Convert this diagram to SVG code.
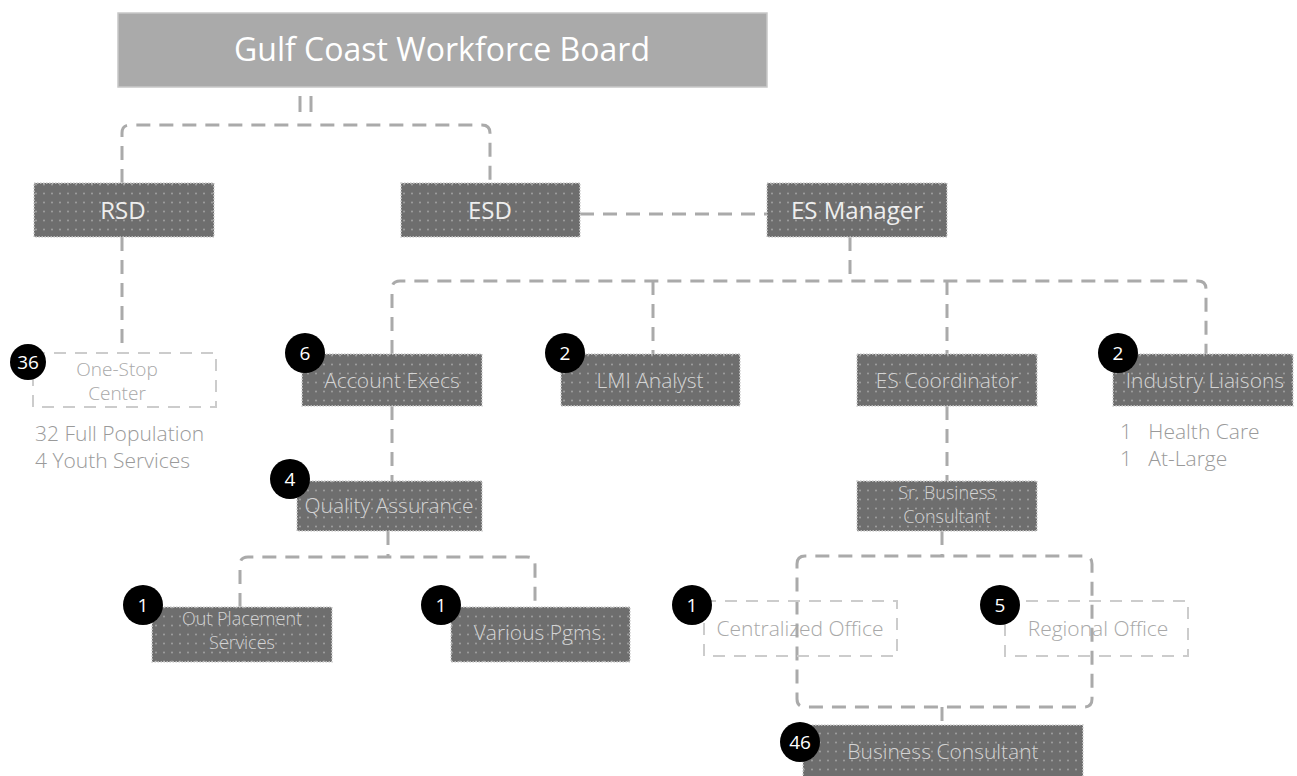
<svg xmlns="http://www.w3.org/2000/svg" width="1297" height="776" viewBox="0 0 1297 776">
<defs>
<pattern id="dots" width="8" height="9" patternUnits="userSpaceOnUse">
<rect width="8" height="9" fill="#6e6e6e"/>
<circle cx="4" cy="4.5" r="1" fill="#a0a0a0"/>
</pattern>
<style>
.box{fill:url(#dots);stroke:#cfcfcf;stroke-width:1.5;stroke-dasharray:1.5 1.5}
.btxt{font-family:"Open Sans","Liberation Sans",sans-serif;font-weight:300;font-size:21px;fill:#d4d4d4;text-anchor:middle}
.btxt2{font-family:"Open Sans","Liberation Sans",sans-serif;font-weight:300;font-size:18px;fill:#d4d4d4;text-anchor:middle}
.big{font-family:"Open Sans","Liberation Sans",sans-serif;font-size:24px;fill:#eeeeee;text-anchor:middle}
.dbox{fill:none;stroke:#cccccc;stroke-width:2;stroke-dasharray:12 9}
.gtxt{font-family:"Open Sans","Liberation Sans",sans-serif;font-weight:300;font-size:21px;fill:#9a9a9a}
.gtxtc{font-family:"Open Sans","Liberation Sans",sans-serif;font-weight:300;font-size:21px;fill:#a8a8a8;text-anchor:middle}
.gtxts{font-family:"Open Sans","Liberation Sans",sans-serif;font-weight:300;font-size:19px;fill:#a8a8a8;text-anchor:middle}
.conn{fill:none;stroke:#aaaaaa;stroke-width:3;stroke-dasharray:14 9}
.badge{fill:#000000}
.btext{font-family:"Open Sans","Liberation Sans",sans-serif;font-size:19px;fill:#ffffff;text-anchor:middle}
</style>
</defs>
<rect width="1297" height="776" fill="#ffffff"/>

<g id="connectors">
<line x1="300" y1="96" x2="300" y2="112" stroke="#aaaaaa" stroke-width="3"/>
<line x1="311" y1="96" x2="311" y2="112" stroke="#aaaaaa" stroke-width="3"/>
<path class="conn" d="M122 183 V133 Q122 125 130 125 H482 Q490 125 490 133 V183"/>
<path class="conn" d="M580 214 H767"/>
<path class="conn" d="M122 237 V353"/>
<path class="conn" d="M850 237 V281"/>
<path class="conn" d="M392 354 V289 Q392 281 400 281 H1198 Q1206 281 1206 289 V354"/>
<path class="conn" d="M653 281 V354"/>
<path class="conn" d="M947 281 V354"/>
<path class="conn" d="M392 406 V481"/>
<path class="conn" d="M947 406 V481"/>
<path class="conn" d="M388 531 V557"/>
<path class="conn" d="M240 607 V565 Q240 557 248 557 H527 Q535 557 535 565 V607"/>
<path class="conn" d="M942 531 V556"/>
<path class="conn" d="M797 564 Q797 556 805 556 H1084 Q1092 556 1092 564 V699 Q1092 707 1084 707 H805 Q797 707 797 699 Z"/>
<path class="conn" d="M942 707 V725"/>
</g>

<g id="board">
<rect x="118" y="13" width="649" height="74" fill="#aaaaaa" stroke="#c8c8c8" stroke-width="1.5"/>
<text x="442" y="61" font-family="'Open Sans','Liberation Sans',sans-serif" font-size="32" fill="#ffffff" text-anchor="middle">Gulf Coast Workforce Board</text>
</g>

<g id="rsd">
<rect class="box" x="34" y="183" width="180" height="54"/>
<text class="big" x="123" y="219">RSD</text>
</g>
<g id="esd">
<rect class="box" x="401" y="183" width="179" height="54"/>
<text class="big" x="490" y="219">ESD</text>
</g>
<g id="es-manager">
<rect class="box" x="767" y="183" width="180" height="54"/>
<text class="big" x="857" y="219">ES Manager</text>
</g>

<g id="one-stop">
<rect class="dbox" x="33" y="353" width="183" height="54"/>
<text class="gtxts" x="117" y="376">One-Stop</text>
<text class="gtxts" x="117" y="400">Center</text>
<circle class="badge" cx="28" cy="362" r="18"/>
<text class="btext" x="28" y="369">36</text>
<text class="gtxt" x="35" y="441">32 Full Population</text>
<text class="gtxt" x="35" y="468">4 Youth Services</text>
</g>

<g id="account-execs">
<rect class="box" x="302" y="354" width="180" height="52"/>
<text class="btxt" x="392" y="388">Account Execs</text>
<circle class="badge" cx="305" cy="353" r="20"/>
<text class="btext" x="305" y="360">6</text>
</g>

<g id="lmi-analyst">
<rect class="box" x="561" y="354" width="179" height="52"/>
<text class="btxt" x="650" y="388">LMI Analyst</text>
<circle class="badge" cx="565" cy="353" r="20"/>
<text class="btext" x="565" y="360">2</text>
</g>

<g id="es-coordinator">
<rect class="box" x="857" y="354" width="180" height="52"/>
<text class="btxt" x="947" y="388">ES Coordinator</text>
</g>

<g id="industry-liaisons">
<rect class="box" x="1113" y="354" width="180" height="52"/>
<text class="btxt" x="1205" y="388">Industry Liaisons</text>
<circle class="badge" cx="1118" cy="353" r="20"/>
<text class="btext" x="1118" y="360">2</text>
<text class="gtxt" x="1120" y="439" xml:space="preserve">1   Health Care</text>
<text class="gtxt" x="1120" y="466" xml:space="preserve">1   At-Large</text>
</g>

<g id="quality-assurance">
<rect class="box" x="297" y="481" width="185" height="50"/>
<text class="btxt" x="389" y="513">Quality Assurance</text>
<circle class="badge" cx="290" cy="479" r="20"/>
<text class="btext" x="290" y="486">4</text>
</g>

<g id="sr-business-consultant">
<rect class="box" x="857" y="481" width="180" height="50"/>
<text class="btxt2" x="947" y="499">Sr. Business</text>
<text class="btxt2" x="947" y="523">Consultant</text>
</g>

<g id="out-placement">
<rect class="box" x="152" y="607" width="180" height="55"/>
<text class="btxt2" x="242" y="625">Out Placement</text>
<text class="btxt2" x="242" y="649">Services</text>
<circle class="badge" cx="143" cy="605" r="20"/>
<text class="btext" x="143" y="612">1</text>
</g>

<g id="various-pgms">
<rect class="box" x="451" y="607" width="179" height="55"/>
<text class="btxt" x="540" y="640">Various Pgms.</text>
<circle class="badge" cx="441" cy="605" r="20"/>
<text class="btext" x="441" y="612">1</text>
</g>

<g id="centralized-office">
<rect class="dbox" x="704" y="601" width="193" height="55"/>
<text class="gtxtc" x="800" y="636">Centralized Office</text>
<circle class="badge" cx="692" cy="605" r="20"/>
<text class="btext" x="692" y="612">1</text>
</g>

<g id="regional-office">
<rect class="dbox" x="1005" y="601" width="183" height="55"/>
<text class="gtxtc" x="1098" y="636">Regional Office</text>
<circle class="badge" cx="1000" cy="605" r="20"/>
<text class="btext" x="1000" y="612">5</text>
</g>

<g id="business-consultant">
<rect class="box" x="803" y="725" width="280" height="60"/>
<text class="btxt" x="943" y="759">Business Consultant</text>
<circle class="badge" cx="800" cy="742" r="20"/>
<text class="btext" x="800" y="749">46</text>
</g>
</svg>
